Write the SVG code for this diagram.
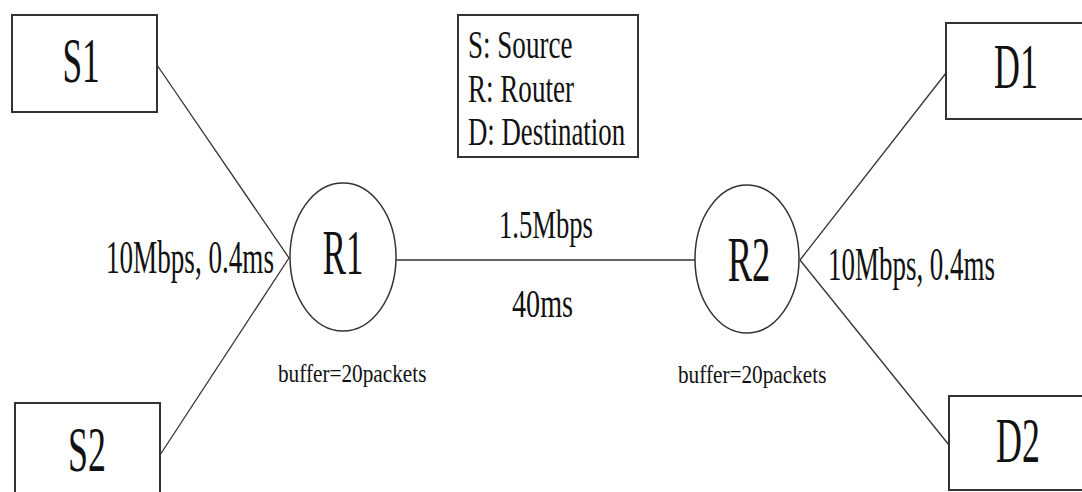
<svg xmlns="http://www.w3.org/2000/svg" width="1082" height="492" viewBox="0 0 1082 492">
<style>
.box{fill:#fff;stroke:#333;stroke-width:2}
.rt{fill:#fff;stroke:#333;stroke-width:1.5}
.ln{stroke:#333;stroke-width:1.3;fill:none}
text{font-family:'Liberation Serif','DejaVu Serif',serif;fill:#111}
.big{font-size:63px;text-anchor:middle}
.mid{font-size:47px}
.leg{font-size:41px}
.sm{font-size:25px}
</style>
<rect width="1082" height="492" fill="#fff"/>
<g id="connectors">
<line class="ln" x1="157" y1="65" x2="289" y2="258"/>
<line class="ln" x1="160" y1="455" x2="289" y2="258"/>
<line class="ln" x1="396" y1="260" x2="695" y2="260"/>
<line class="ln" x1="800" y1="260" x2="946" y2="73"/>
<line class="ln" x1="800" y1="260" x2="949" y2="445"/>
</g>
<g id="S1">
<rect class="box" x="12" y="15" width="145" height="97"/>
<text class="big" transform="translate(81,82) scale(0.56,1)">S1</text>
</g>
<g id="S2">
<rect class="box" x="15" y="403" width="145" height="100"/>
<text class="big" transform="translate(87,471) scale(0.57,1)">S2</text>
</g>
<g id="D1">
<rect class="box" x="946" y="23" width="145" height="96"/>
<text class="big" transform="translate(1016,88) scale(0.57,1)">D1</text>
</g>
<g id="D2">
<rect class="box" x="949" y="396" width="145" height="94"/>
<text class="big" transform="translate(1018,462) scale(0.57,1)">D2</text>
</g>
<g id="R1">
<ellipse class="rt" cx="343" cy="257" rx="53" ry="74"/>
<text class="big" transform="translate(343,274) scale(0.55,1)">R1</text>
<text class="sm" transform="translate(278,382) scale(0.85,1)">buffer=20packets</text>
</g>
<g id="R2">
<ellipse class="rt" cx="747" cy="259" rx="52" ry="74"/>
<text class="big" transform="translate(749,281) scale(0.58,1)">R2</text>
<text class="sm" transform="translate(678,383) scale(0.85,1)">buffer=20packets</text>
</g>
<g id="legend">
<rect class="box" x="458" y="15" width="180" height="142"/>
<text class="leg" transform="translate(468,58) scale(0.66,1)">S: Source</text>
<text class="leg" transform="translate(468,102) scale(0.66,1)">R: Router</text>
<text class="leg" transform="translate(468,145) scale(0.654,1)">D: Destination</text>
</g>
<g id="labels">
<text class="mid" transform="translate(106,273) scale(0.577,1)">10Mbps, 0.4ms</text>
<text class="mid" transform="translate(828,280) scale(0.574,1)">10Mbps, 0.4ms</text>
<text class="leg" transform="translate(499,238) scale(0.65,1)">1.5Mbps</text>
<text class="leg" transform="translate(512,317) scale(0.687,1)">40ms</text>
</g>
</svg>
